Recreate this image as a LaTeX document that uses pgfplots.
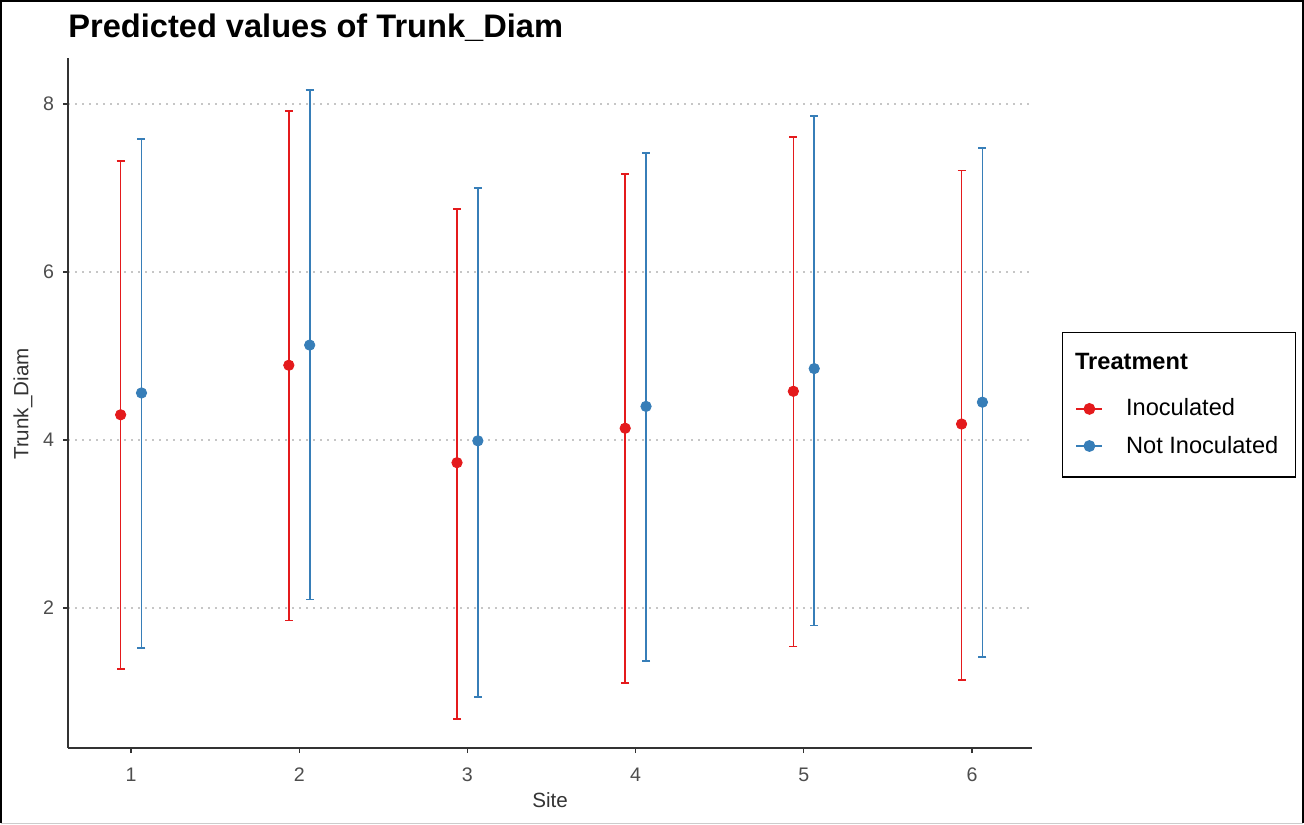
\documentclass[border=0pt]{standalone}
\usepackage{pgfplots}
\pgfplotsset{compat=1.18}
\usepackage{fontspec}
\setmainfont{Liberation Sans}
\definecolor{cred}{HTML}{E41A1C}
\definecolor{cblue}{HTML}{377EB8}
\definecolor{axgray}{HTML}{333333}
\definecolor{txtgray}{HTML}{4D4D4D}
\begin{document}
\begin{tikzpicture}
\useasboundingbox (0,0) rectangle (652pt,412pt);
\draw[line width=0.5pt, gray!40] (0.4pt,0.4pt) -- (651.6pt,0.4pt);
\draw[line width=0.9pt, black] (0.45pt,0.4pt) -- (0.45pt,411.55pt) -- (651.55pt,411.55pt) -- (651.55pt,0.4pt);
\node[anchor=base west, inner sep=0pt, font=\fontsize{16.3}{19}\selectfont\bfseries] at (34pt,393pt) {Predicted values of Trunk\_Diam};
\node[rotate=90, inner sep=0pt, font=\fontsize{10.3}{12}\selectfont, text=axgray] at (11.5pt,210pt) {Trunk\_Diam};
\node[inner sep=0pt, font=\fontsize{10.3}{12}\selectfont, text=axgray] at (275pt,12pt) {Site};
\begin{axis}[
  at={(34pt,38pt)}, anchor=south west,
  scale only axis, width=482pt, height=345pt,
  xmin=0.625, xmax=6.357, ymin=0.333, ymax=8.548,
  axis lines=left, axis line style={-, axgray, line width=0.7pt},
  xtick={1,2,3,4,5,6}, ytick={2,4,6,8},
  tick align=outside, major tick length=2.5pt,
  tick style={axgray, line width=0.7pt},
  ticklabel style={font=\fontsize{9.8}{11}\selectfont, text=txtgray},
  xticklabel style={yshift=-4pt},
  yticklabel style={xshift=-1pt},
  /pgf/number format/assume math mode=true,
  ymajorgrids, grid style={gray!45, line width=0.6pt, dash pattern=on 0.8pt off 2.7pt},
  clip=false,
  legend style={at={(1.031,0.603)}, anchor=north west, draw=black, line width=0.7pt,
    font=\fontsize{11.8}{14}\selectfont, row sep=4.5pt, inner xsep=6.5pt, inner ysep=8.5pt,
    cells={anchor=west}},
  legend cell align=left,
  legend image code/.code={\draw[#1, line width=0.8pt] (0pt,0pt) -- (13pt,0pt); \fill[#1] (6.5pt,0pt) circle (2.6pt); \path (22.5pt,0pt);},
]
\addplot[cred, only marks, mark=*, mark size=2.6pt, forget plot,
  error bars/.cd, y dir=both, y explicit,
  error bar style={line width=0.85pt, cred},
  error mark options={rotate=90, mark size=2pt, line width=0.85pt, cred}]
  table[x=x, y=y, y error plus expr=\thisrow{hi}-\thisrow{y}, y error minus expr=\thisrow{y}-\thisrow{lo}] {
x y hi lo
0.938 4.30 7.32 1.27
1.938 4.89 7.92 1.85
2.938 3.73 6.75 0.68
3.938 4.14 7.17 1.11
4.938 4.58 7.61 1.54
5.938 4.19 7.21 1.14
};
\addplot[cblue, only marks, mark=*, mark size=2.6pt, forget plot,
  error bars/.cd, y dir=both, y explicit,
  error bar style={line width=0.85pt, cblue},
  error mark options={rotate=90, mark size=2pt, line width=0.85pt, cblue}]
  table[x=x, y=y, y error plus expr=\thisrow{hi}-\thisrow{y}, y error minus expr=\thisrow{y}-\thisrow{lo}] {
x y hi lo
1.062 4.56 7.58 1.52
2.062 5.13 8.17 2.10
3.062 3.99 7.00 0.94
4.062 4.40 7.42 1.37
5.062 4.85 7.86 1.79
6.062 4.45 7.48 1.42
};
\addlegendimage{empty legend}
\addlegendentry{\hspace{-25.5pt}\raisebox{4.5pt}{\textbf{Treatment}}}
\addlegendimage{cred}
\addlegendentry{Inoculated}
\addlegendimage{cblue}
\addlegendentry{Not Inoculated}
\end{axis}
\end{tikzpicture}
\end{document}
